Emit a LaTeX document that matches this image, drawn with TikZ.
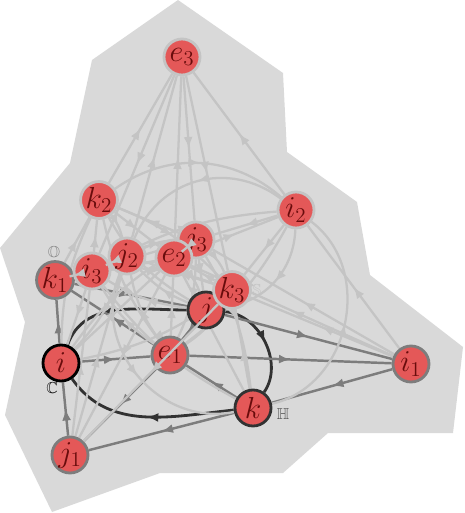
\documentclass[tikz,border=0pt]{standalone}
\usepackage{amsmath, amssymb}
\usepackage{tikz}
\usetikzlibrary{arrows.meta}
\usetikzlibrary{decorations.markings}
\usetikzlibrary{backgrounds}
\definecolor{nodered}{RGB}{228,88,88}
\definecolor{labelred}{RGB}{105,12,12}
\definecolor{sline}{RGB}{196,196,196}
\definecolor{oline}{RGB}{125,125,125}
\definecolor{hline}{RGB}{50,50,50}
\definecolor{bgshade}{RGB}{217,217,217}
\tikzstyle{vertex}=[draw,fill=nodered,circle,minimum size=0.72cm,inner sep=0pt,line width=1.6pt,text=labelred,font=\LARGE]
\tikzstyle{sunit}=[vertex,draw=sline]
\tikzstyle{ounit}=[vertex,draw=oline]
\tikzstyle{hunit}=[vertex,draw=hline]
\tikzstyle{cunit}=[vertex,draw=black]
\tikzstyle{midarrow}=[postaction={decorate},decoration={markings,mark=at position .5 with {\arrow{Latex[length=2.3mm,width=1.8mm]}}}]
\tikzstyle{sedge}=[color=sline,line width=1.3pt,midarrow]
\tikzstyle{oedge}=[color=oline,line width=1.4pt,midarrow]
\tikzstyle{hedge}=[color=hline,line width=1.6pt,midarrow]
\pgfdeclarelayer{bglayer}
\pgfdeclarelayer{hedges}
\pgfdeclarelayer{oedges}
\pgfdeclarelayer{sedges}
\pgfdeclarelayer{hnodes}
\pgfdeclarelayer{onodes}
\pgfdeclarelayer{topedges}
\pgfsetlayers{bglayer,hedges,oedges,sedges,hnodes,onodes,topedges,main}

\begin{document}
\begin{tikzpicture}[x=0.02cm,y=0.02cm]
\useasboundingbox (0,0) rectangle (464,-513);
\begin{pgfonlayer}{bglayer}
\fill[bgshade] (178,0) -- (283,-73) -- (287,-152) -- (357,-202) -- (370,-275) -- (463,-347)
  -- (453,-433) -- (328,-433) -- (283,-473) -- (160,-473) -- (52,-512) -- (5,-415)
  -- (25,-322) -- (0,-248) -- (70,-163) -- (92,-60) -- cycle;
\end{pgfonlayer}

% quaternions
\begin{pgfonlayer}{hnodes}
\node [cunit] (i) at (61,-363) {$i$};
\node [hunit] (j) at (206,-310) {$j$};
\node [hunit] (k) at (253,-408) {$k$};
\end{pgfonlayer}
\begin{pgfonlayer}{hedges}
\draw[hedge] (i) to[out=70,in=180] (j);
\draw[hedge] (j) to[out=-5,in=55] (k);
\draw[hedge] (k) to[out=186,in=-55] (i);
\end{pgfonlayer}

% octonions
\begin{pgfonlayer}{onodes}
\node [ounit] (e1) at (170,-355) {$e_1$};
\node [ounit] (i1) at (411,-364) {$i_1$};
\node [ounit] (j1) at (70,-455) {$j_1$};
\node [ounit] (k1) at (55,-280) {$k_1$};
\end{pgfonlayer}
\begin{pgfonlayer}{oedges}
\foreach \a/\b/\c in {i/e1/i1, j/e1/j1, k/e1/k1, j1/i/k1, k1/j/i1, i1/k/j1}
{
  \draw[oedge] (\a) -- (\b);
  \draw[oedge] (\b) -- (\c);
}
\end{pgfonlayer}

% sedenions
\node [sunit] (e3) at (182,-57) {$e_3$};
\node [sunit] (k2) at (99,-200) {$k_2$};
\node [sunit] (i2) at (296,-210) {$i_2$};
\node [sunit] (j3) at (196,-240) {$j_3$};
\node [sunit] (e2) at (174,-258) {$e_2$};
\node [sunit] (j2) at (127,-256) {$j_2$};
\node [sunit] (i3) at (92,-271) {$i_3$};
\node [sunit] (k3) at (232,-290) {$k_3$};
\begin{pgfonlayer}{sedges}
\foreach \a/\b/\c in {k1/k2/e3, j1/j2/e3, e3/i3/i, e1/e2/e3, e3/j3/j, i1/i2/e3,
  i/e2/i2, k2/e2/k, i1/e2/i3, k3/e2/k1, i2/j3/k1, i1/k3/j2, i1/j3/k2, j1/i3/k2}
{
  \draw[sedge] (\a) -- (\b);
  \draw[sedge] (\b) -- (\c);
}
\draw[sedge] (i2) -- (k3);
\draw[sedge] (e3) -- (k3);
\draw[sedge] (k) -- (k3);
\draw[sedge] (e2) -- (j1);
\foreach \a/\b/\c in {k2/j2/i, j2/j3/e1, k2/k3/e1, i3/j3/k, i/j3/k3, i3/i2/e1}
{
  \draw[sedge] (\a) to[bend left=12] (\b);
  \draw[sedge] (\b) to[bend left=12] (\c);
  \draw[sedge] (\c) to[bend left=12] (\a);
}
\draw[sedge] (e2) to[bend left=12] (j);
\draw[sedge] (j) to[bend left=12] (j2);
\draw[sedge] (i3) to[bend left=12] (k3);
\draw[sedge] (j) to[bend left=12] (i3);
\draw[sedge] (k2) to[bend left=38] (i2);
\draw[sedge] (i2) to[bend left=40] (j);
\draw[sedge] (j) to[bend left=15] (k2);
\draw[sedge] (i2) to[bend right=52,looseness=1.1] (j2);
\draw[sedge] (j2) to[bend right=62,looseness=1.1] (k);
\draw[sedge] (k) to[bend right=65,looseness=1.1] (i2);
\end{pgfonlayer}
\begin{pgfonlayer}{topedges}
\draw[sedge] (k3) -- (j1);
\end{pgfonlayer}
% arrows where the circles touch
\draw[sedge,shorten <=0.3cm,shorten >=0.3cm] (j2.center) -- (i3.center);
\draw[sedge,shorten <=0.3cm,shorten >=0.3cm] (i3.center) -- (k1.center);
\draw[sedge,shorten <=0.2cm,shorten >=0.2cm] (j3.center) -- (e2.center);

\node[font=\small,text=black] (clabel) at (52,-388) {$\mathbb{C}$};
\node[font=\small,text=black!70] (hlabel) at (283,-414) {$\mathbb{H}$};
\node[font=\small,text=black!50] (olabel) at (54,-253) {$\mathbb{O}$};
\node[font=\small,text=sline] (slabel) at (257,-290) {$\mathbb{S}$};
\end{tikzpicture}
\end{document}
